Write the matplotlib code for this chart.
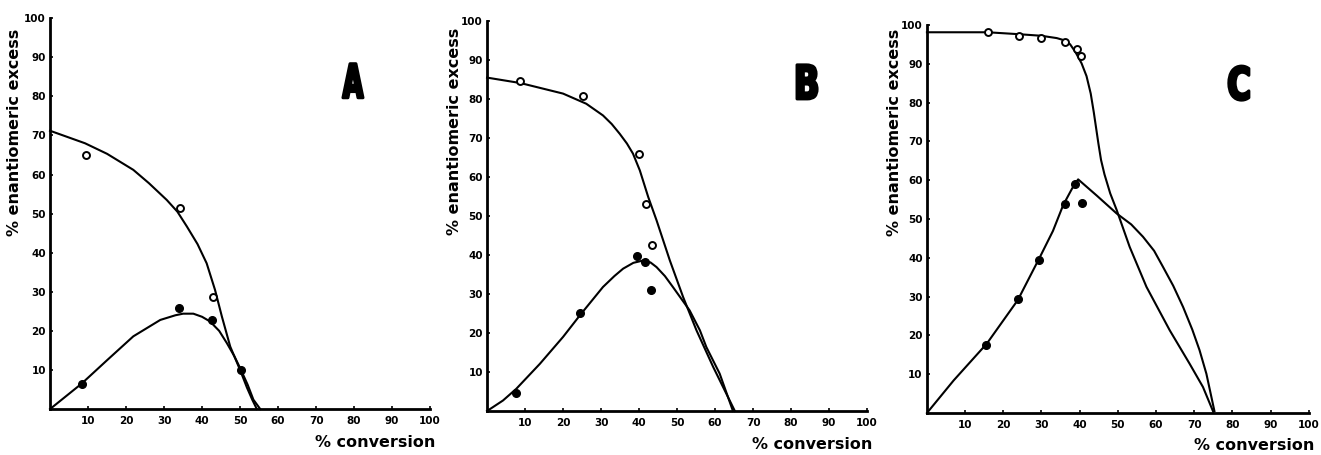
import matplotlib
matplotlib.use("Agg")
from matplotlib import pyplot as plt
from matplotlib.textpath import TextPath
from matplotlib.patches import PathPatch
from matplotlib.font_manager import FontProperties
from matplotlib.transforms import Affine2D, IdentityTransform

plt.rcParams['font.family'] = ['DejaVu Sans']

# ---- panel A ----
a_open_x = [9.5, 34.2, 42.8]
a_open_y = [64.9, 51.4, 28.6]
a_fill_x = [8.3, 34.0, 42.7, 50.2]
a_fill_y = [6.5, 25.8, 22.8, 10.0]
a_open_curve_x = [0, 9.2, 15, 21.9, 26, 30.7, 33.5, 36, 38.8, 41.2, 43.4, 45.2, 47.4, 50, 51.8, 53.2, 54.4]
a_open_curve_y = [71.2, 68, 65.3, 61.2, 57.8, 53.5, 50.5, 46.7, 42.2, 37.3, 30.5, 23.7, 16, 10, 5.5, 2.4, 0]
a_fill_curve_x = [0, 8.3, 15, 21.9, 29, 33, 35, 37.7, 40, 42.1, 44.5, 46.5, 48.5, 50, 52, 53.5, 55.3]
a_fill_curve_y = [0, 6.5, 12.5, 18.6, 22.8, 24.0, 24.4, 24.4, 23.6, 22.4, 20.0, 16.9, 13.5, 10.5, 6.2, 2.4, 0]

# ---- panel B ----
b_open_x = [8.8, 25.3, 39.9, 41.9, 43.4]
b_open_y = [84.6, 80.9, 66.0, 53.0, 42.6]
b_fill_x = [7.5, 24.4, 39.4, 41.5, 43.2]
b_fill_y = [4.7, 25.2, 39.7, 38.2, 31.1]
b_open_curve_x = [0, 8.8, 20, 26.1, 30.5, 32.8, 34.9, 36.8, 38.4, 40.2, 42.4, 44.6, 48.1, 51.6, 55.1, 59.5, 65.2]
b_open_curve_y = [85.5, 84.1, 81.4, 78.8, 75.8, 73.6, 71.1, 68.6, 66.0, 61.7, 54.9, 48.9, 38.6, 29.2, 20.7, 11.3, 0]
b_fill_curve_x = [0, 4.2, 7.7, 13.9, 20, 24.4, 30.5, 33.5, 35.8, 38.5, 41.1, 43.0, 44.6, 46.8, 48.9, 53.3, 56, 57.7, 61.2, 64.7]
b_fill_curve_y = [0, 2.7, 5.7, 12.1, 19.0, 24.5, 31.8, 34.6, 36.5, 38.0, 38.6, 38.1, 36.9, 34.6, 31.8, 25.8, 20.7, 16.4, 9.6, 0]

# ---- panel C ----
c_open_x = [15.9, 24.1, 29.9, 36.1, 39.2, 40.4]
c_open_y = [98.1, 97.2, 96.6, 95.6, 93.9, 92.1]
c_fill_x = [15.4, 23.8, 29.4, 36.1, 38.9, 40.5]
c_fill_y = [17.5, 29.5, 39.5, 53.8, 58.9, 54.0]
c_open_curve_x = [0, 15.9, 24.1, 29.9, 34.0, 36.1, 37.5, 38.9, 40.5, 41.8, 42.9, 43.7, 44.3, 44.9, 45.6, 46.5, 48.0, 49.7,
                  53.1, 57.5, 63.6, 68.8, 72.3, 75.0]
c_open_curve_y = [98.1, 98.1, 97.6, 97.2, 96.6, 96.0, 95.0, 93.0, 90.1, 86.8, 82.3, 77.5, 73.5, 69.5, 65.2, 61.5, 56.6, 52.3,
                  42.8, 32.5, 21.3, 12.7, 6.7, 0.3]
c_fill_curve_x = [0, 7.0, 15.7, 23.8, 29.6, 33.0, 35.7, 38.0, 39.6, 44.5, 49.7, 53.5, 56.6, 59.5, 61.8, 64.5, 67.1, 69.5, 71.4, 73.2, 75.3]
c_fill_curve_y = [0, 8.4, 17.9, 29.1, 40.2, 46.9, 53.6, 57.8, 60.2, 56.0, 51.4, 48.6, 45.4, 41.8, 37.7, 32.8, 27.3, 21.5, 16.2, 10.1, 0.5]

ticks = [10, 20, 30, 40, 50, 60, 70, 80, 90, 100]
tick_labels = [str(t) for t in ticks]

panels = [
    ("A", [0.0379, 0.101, 0.2877, 0.859], (79.7, 84), (-0.074, 0.974),
     a_open_x, a_open_y, a_fill_x, a_fill_y,
     a_open_curve_x, a_open_curve_y, a_fill_curve_x, a_fill_curve_y),
    ("B", [0.3687, 0.0967, 0.2877, 0.857], (84.2, 84.4), (-0.066, 0.982),
     b_open_x, b_open_y, b_fill_x, b_fill_y,
     b_open_curve_x, b_open_curve_y, b_fill_curve_x, b_fill_curve_y),
    ("C", [0.7017, 0.0923, 0.2890, 0.853], (81.7, 85), (-0.065, 0.99),
     c_open_x, c_open_y, c_fill_x, c_fill_y,
     c_open_curve_x, c_open_curve_y, c_fill_curve_x, c_fill_curve_y),
]

fig = plt.figure(figsize=(13.21, 4.55), dpi=100)
letter_font = FontProperties(family='DejaVu Sans', weight='bold')


def draw_letter(ax, letter, x, y, width_px=20, height_px=34):
    # condensed, heavy panel letter: squeeze a glyph outline to the wanted box
    tp = TextPath((0, 0), letter, size=1, prop=letter_font)
    ext = tp.get_extents()
    cx, cy = ax.transData.transform((x, y))
    tr = (Affine2D()
          .translate(-(ext.x0 + ext.x1) / 2, -(ext.y0 + ext.y1) / 2)
          .scale(width_px / ext.width, height_px / ext.height)
          .translate(cx, cy))
    patch = PathPatch(tr.transform_path(tp), facecolor='black', edgecolor='black',
                      lw=2.2, joinstyle='round', transform=IdentityTransform())
    fig.add_artist(patch)


for (letter, rect, letter_pos, ylab_pos, ox, oy, fx, fy, ocx, ocy, fcx, fcy) in panels:
    ax = fig.add_axes(rect)

    # hand drawn curves
    ax.plot(ocx, ocy, color='black', lw=1.5, solid_joinstyle='round', clip_on=False)
    ax.plot(fcx, fcy, color='black', lw=1.5, solid_joinstyle='round', clip_on=False)

    # data points
    ax.plot(ox, oy, linestyle='none', marker='o', markersize=5,
            markerfacecolor='white', markeredgecolor='black', markeredgewidth=1.4, zorder=3)
    ax.plot(fx, fy, linestyle='none', marker='o', markersize=5.5,
            color='black', zorder=3)

    ax.set_xlim(0, 100)
    ax.set_ylim(0, 100)
    ax.set_xticks(ticks)
    ax.set_xticklabels(tick_labels, fontsize=7.5, fontweight='bold')
    ax.set_yticks(ticks)
    ax.set_yticklabels(tick_labels, fontsize=7.5, fontweight='bold')
    ax.tick_params(direction='in', length=2.5, width=1.2, pad=3)
    ax.tick_params(axis='x', pad=5)

    for side in ['top', 'right']:
        ax.spines[side].set_visible(False)
    for side in ['left', 'bottom']:
        ax.spines[side].set_linewidth(2)

    ax.text(101.5, -8.5, "% conversion", ha='right', va='center',
            fontsize=11.5, fontweight='bold', clip_on=False)
    ax.set_ylabel("% enantiomeric excess", fontsize=11.5, fontweight='bold', loc='top')
    ax.yaxis.set_label_coords(ylab_pos[0], ylab_pos[1])

    draw_letter(ax, letter, letter_pos[0], letter_pos[1])

fig.savefig("out.png", dpi=100)
